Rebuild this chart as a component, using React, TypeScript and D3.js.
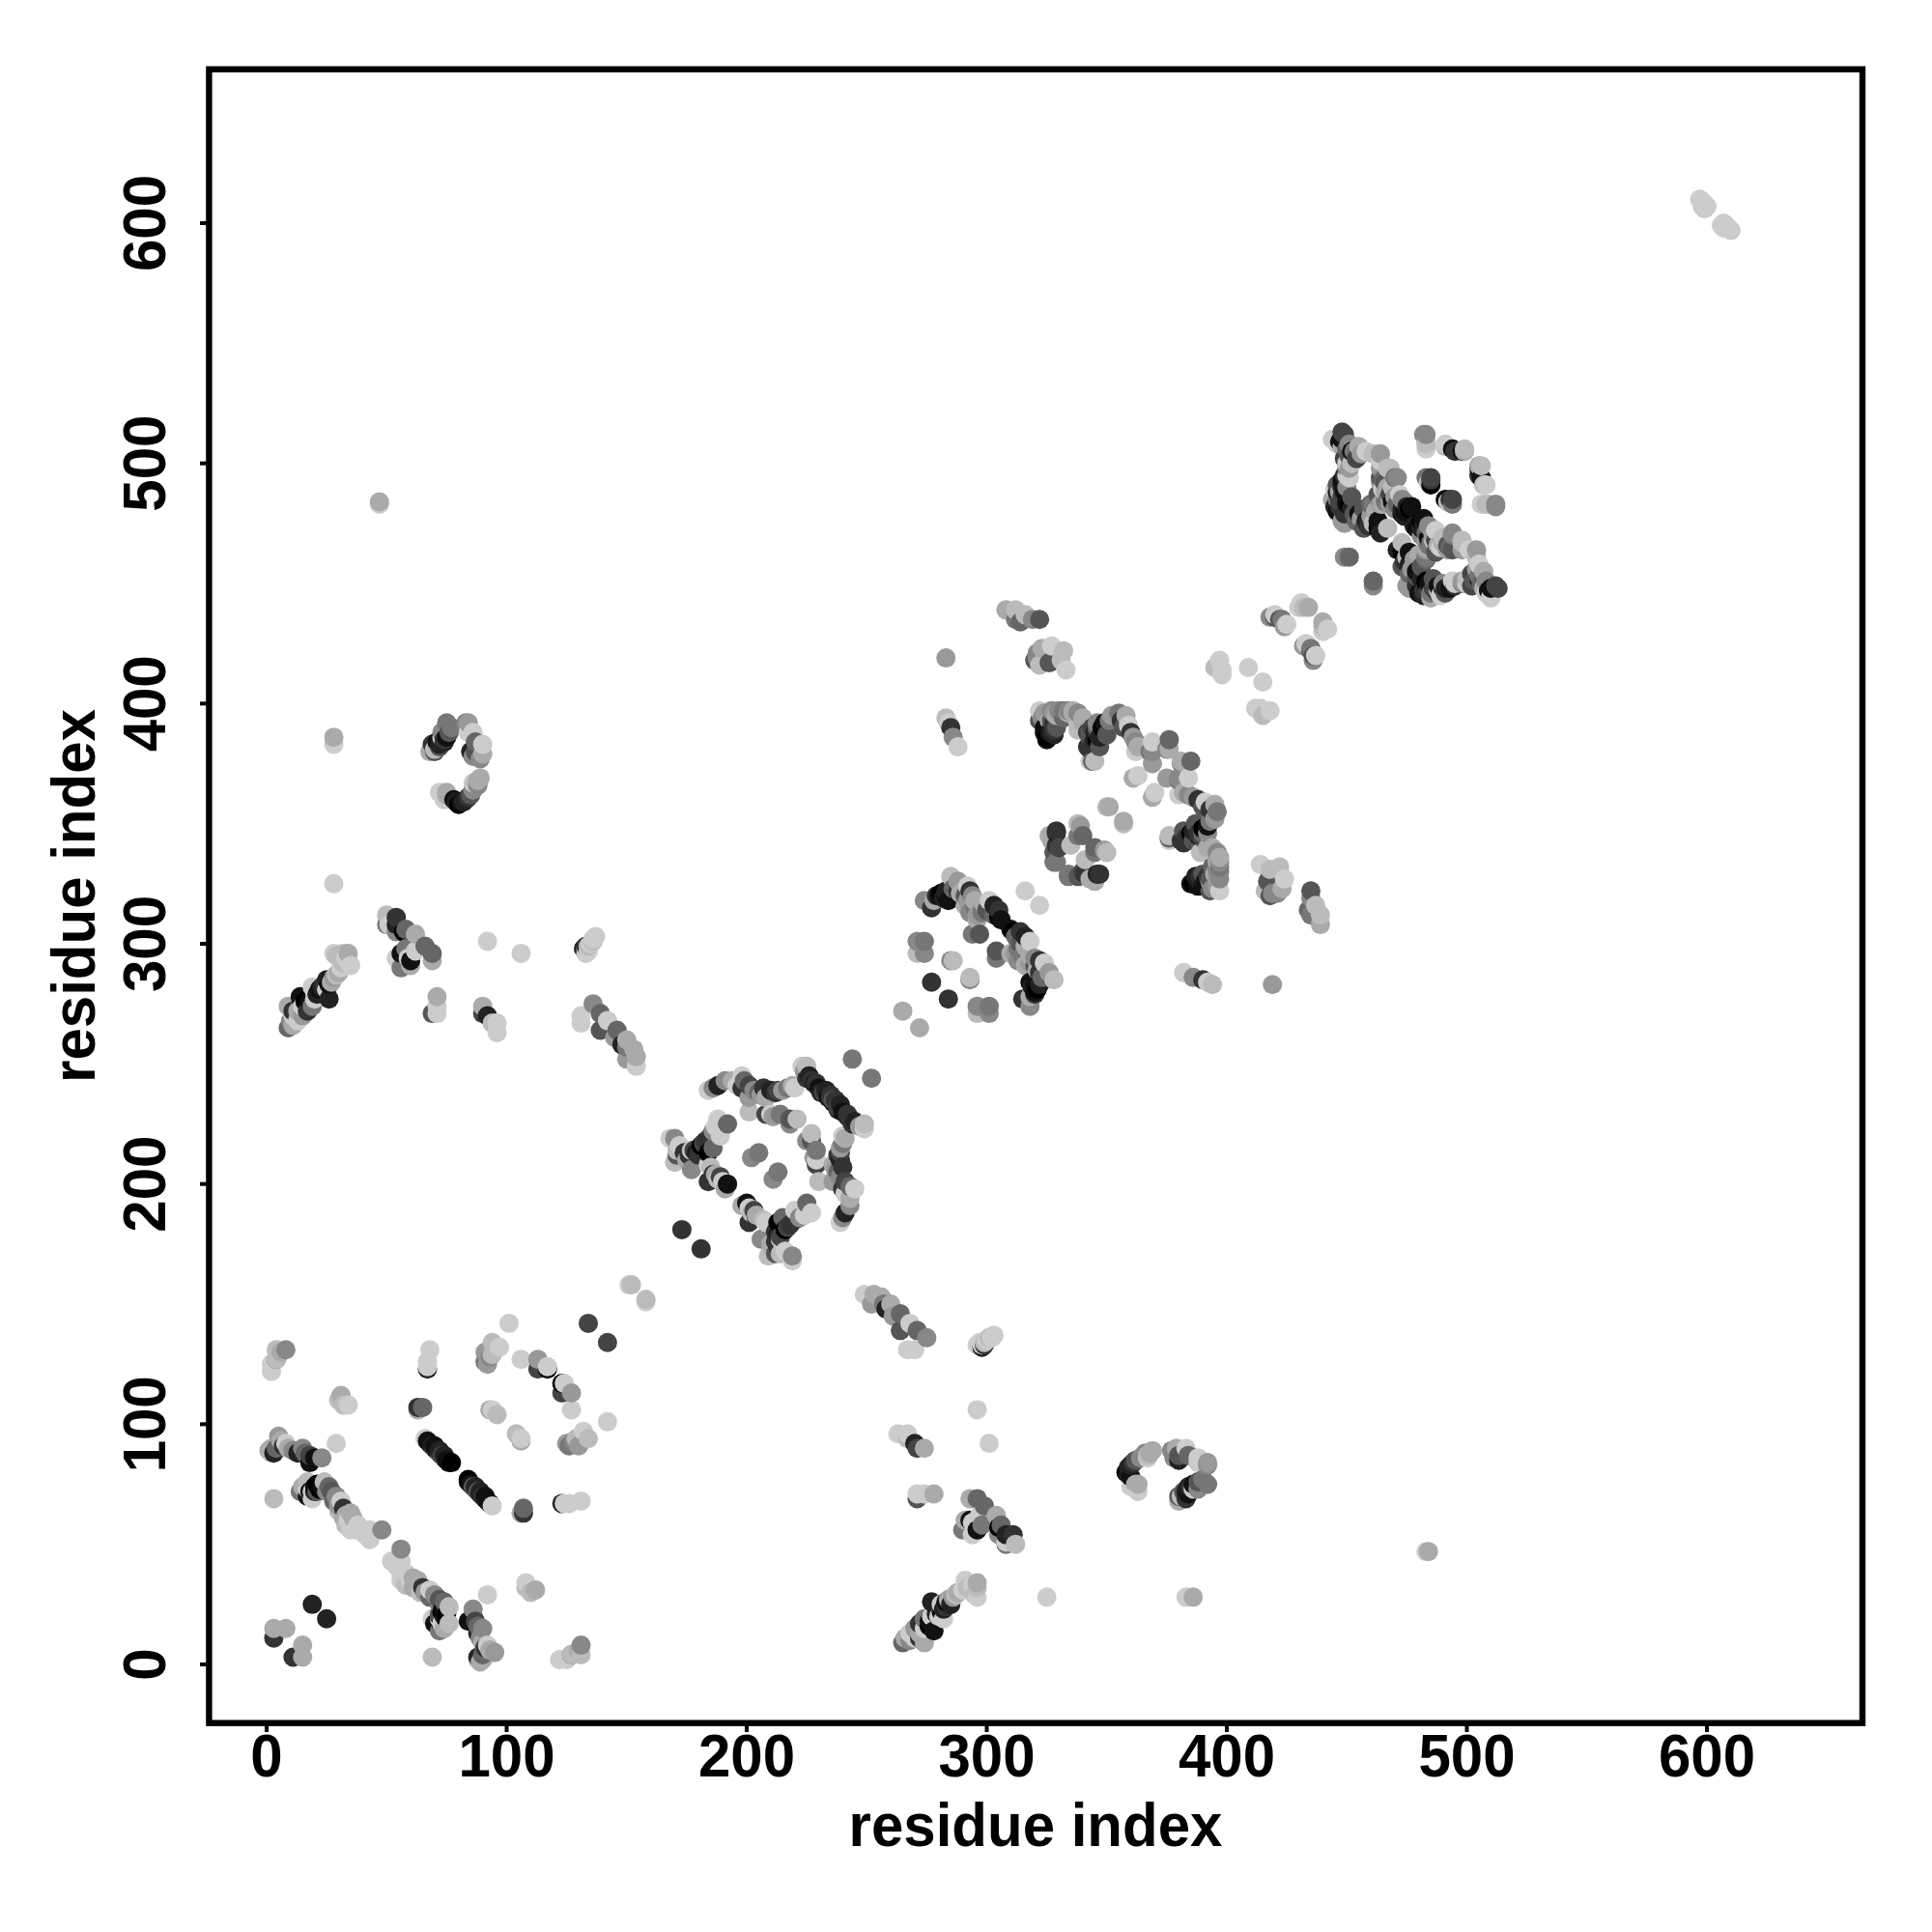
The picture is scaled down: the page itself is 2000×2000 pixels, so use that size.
import React from "react";
import * as d3 from "d3";

// contacts as [residue i, residue j, shade 0 (black) .. 12 (light grey)]; each is plotted at (i,j) and (j,i)
const nTerminalContacts: number[][] = [
  [3,11,3],[3,15,10],[8,15,10],[19,25,2],[3,69,11],
  [1,89,10],[3,88,2],[2,88,11],[2,90,10],[4,90,6],[5,95,9],[6,93,10],[7,91,3],[8,92,12],[9,90,10],[11,89,8],[13,88,2],[15,90,8],[16,88,6],[18,84,1],[18,87,4],[20,86,1],[23,86,8],
  [14,72,7],[15,74,10],[18,72,1],[17,73,12],[17,70,1],[19,69,12],[19,72,12],[20,72,2],[21,75,0],[21,72,5],[22,73,0],[23,74,1],[17,76,11],[20,74,1],[24,76,11],[25,72,8],[26,74,6],[27,72,5],[28,68,6],[29,70,8],[30,66,9],[30,64,11],[31,68,12],
  [32,65,3],[32,61,10],[33,62,10],[34,60,12],[36,61,10],[35,63,10],[33,58,11],[37,56,12],[38,58,12],[35,56,12],[40,56,12],[41,54,12],[43,56,12],[43,52,12],[48,56,8],
  [4,127,5],[2,122,12],[2,125,12],[4,127,11],[4,131,11],[6,130,10],[8,131,8],
  [31,112,10],[30,110,11],[32,108,11],[34,108,12],[29,92,12],
  [65,107,6],[63,107,3],[63,106,10],
  [67,123,2],[67,124,12],[67,126,12],[68,131,12],
  [66,94,12],[67,93,1],[68,92,1],[69,91,2],[70,90,3],[70,91,1],[71,89,1],[72,88,5],[72,89,2],[73,87,4],[74,86,5],[74,87,2],[75,85,1],[76,84,1],[77,84,0],
  [91,130,9],[92,125,9],[91,126,7],[93,128,8],[94,129,11],[97,132,12],[94,134,11],
  [113,127,9],[113,123,4],[117,123,0],[117,124,12],[101,142,12],[106,127,12],[134,142,4],[151,158,12],[152,158,11],
  [93,106,10],[96,104,11],[94,106,12],
];
const middleBlockContacts: number[][] = [
  [173,181,3],[244,252,7],
  [184,239,12],[186,240,8],[188,241,2],[191,243,8],[194,243,10],[196,241,12],[198,245,12],[198,240,3],[199,243,6],[201,241,4],[203,239,8],[205,238,6],[206,237,9],[207,240,3],[210,239,2],[212,238,3],[213,239,4],[215,239,9],[217,240,7],[219,241,10],[220,240,12],
  [225,249,11],[223,249,12],[224,247,9],[225,244,3],[226,245,2],[228,242,2],[229,242,3],[231,238,2],[230,240,1],[227,243,3],[232,238,4],[233,239,2],[234,236,1],[235,237,3],[236,235,5],
  [170,219,8],[172,216,12],[170,209,11],[171,212,5],[171,214,11],[174,213,3],[176,212,3],[177,214,12],[179,213,2],[180,212,3],[181,216,0],[182,217,4],[185,220,3],[186,215,6],[186,222,8],[187,224,12],[188,227,12],[192,225,6],[189,220,12],[184,213,0],[184,208,12],[185,207,11],[187,204,10],
  [186,204,3],[188,202,11],[189,203,4],[190,201,12],[192,200,1],[184,201,3],[178,214,4],[183,218,3],[175,210,10],[168,219,12],[191,198,10],[177,206,8],
  [202,211,8],[205,213,7],[201,230,11],[210,229,12],[208,229,4],[214,229,7],[218,227,5],[221,227,11],[218,225,8],[211,228,9],[201,236,9],[208,236,10],
];
const crossContacts: number[][] = [
  [154,249,12],[154,253,10],[153,256,10],[150,252,9],[150,257,7],[150,260,10],[146,264,6],[145,261,9],[142,268,12],[139,264,5],[139,271,6],[136,275,8],[131,270,12],[131,267,12],[148,258,2],
  [133,296,12],[134,297,12],[132,298,2],[133,298,12],[133,299,3],[134,299,11],[135,300,12],[136,301,11],[136,302,12],[137,303,12],
  [106,296,12],[92,301,12],[96,263,12],[96,267,12],[94,267,11],[92,270,2],[90,274,10],[90,271,4],
  [71,271,12],[69,271,5],[71,274,12],[71,278,10],
  [69,293,10],[69,296,6],[66,299,6],[60,291,10],[56,290,7],[54,294,12],[59,294,12],[62,297,12],[58,298,7],[62,304,10],[58,306,6],[54,305,8],[54,311,3],[54,308,2],[50,312,11],[50,308,7],[51,308,12],[60,293,1],[56,296,1],[57,305,0],
  [9,265,6],[10,268,8],[11,266,10],[11,270,12],[13,268,12],[9,274,10],[11,272,3],[15,270,9],[15,274,12],[17,272,3],[19,274,7],[16,276,0],[18,276,1],[26,277,2],[20,277,12],[21,279,2],[20,280,12],[22,281,1],[19,282,12],[23,282,2],[24,283,3],[25,281,12],[26,283,1],[25,285,2],[27,284,10],[28,286,9],[29,287,11],[30,288,10],[31,290,12],[35,291,12],[32,292,11],[33,294,12],[32,296,11],[34,296,10],[28,296,12],[29,295,11],[14,278,1],[13,272,10],
  [28,325,12],[28,383,12],[28,386,10],
  [79,359,2],[80,358,0],[81,359,1],[82,359,2],[83,360,2],[84,361,3],[85,362,5],[86,364,8],[86,367,12],[87,367,11],[88,366,8],[88,368,10],[89,369,10],[72,363,12],[74,360,12],[75,362,10],[75,363,10],[78,360,1],
  [89,377,8],[86,378,8],[85,380,2],[87,380,5],[87,384,6],[90,383,12],[90,379,10],[84,388,12],[86,388,12],[83,392,8],[84,392,9],
  [68,380,10],[70,380,5],[70,381,11],[69,383,3],[71,384,1],[72,382,5],[72,383,2],[73,386,12],[74,385,3],[73,388,8],[74,384,2],[75,386,1],[76,388,5],[77,390,7],[75,392,7],
  [47,483,12],[47,484,10],
];
const secondBlockContacts: number[][] = [
  [265,272,10],[277,284,3],[271,296,11],[271,301,8],[274,296,8],[274,301,7],[285,293,8],[286,293,11],
  [274,318,8],[278,318,10],[277,315,3],[279,320,3],[280,320,1],[281,321,0],[282,319,2],[283,320,1],[283,322,2],[284,318,1],[285,328,11],[286,323,6],[288,326,9],[288,322,3],[289,321,10],[291,320,5],[292,318,9],[292,324,12],[293,322,3],[291,316,10],[293,313,8],[294,320,8],[295,318,10],[295,315,7],[296,312,9],[296,310,10],[298,313,7],[299,316,10],[300,314,5],[301,318,12],[303,316,2],[303,312,6],[305,314,3],[305,311,0],[306,310,1],[297,304,5],[294,304,7],[316,322,12],
  [329,347,3],[339,349,9],[340,345,6],[329,341,3],[335,341,11],[329,334,7],[328,334,7],[338,345,7],[338,350,11],[329,346,2],[327,343,10],[326,345,10],[328,338,5],[351,357,10],[350,357,11],[330,340,4],
  [343,381,3],[345,376,11],[346,385,0],[350,387,5],[349,392,1],[346,392,8],[342,388,4],[338,389,11],[338,396,8],[334,397,8],[327,397,8],[322,397,12],[325,385,1],[328,389,3],[328,387,2],[326,393,10],
  [323,394,8],[324,396,9],[326,391,1],[327,388,2],[327,393,5],[329,395,10],[331,396,8],[332,394,6],[336,397,10],[340,394,10],[344,390,4],[345,385,2],[344,383,3],[346,388,3],[348,390,0],[347,382,5],[351,393,7],[352,395,9],[356,393,3],[357,390,5],[361,386,9],[363,382,10],
  [327,390,2],[326,388,1],[324,388,1],[330,397,8],[328,396,9],[332,397,7],[336,396,10],[340,392,10],[343,386,5],[345,388,2],[346,390,6],
  [334,396,10],[338,392,11],[328,392,3],[324,390,1],[325,386,0],[329,390,5],[322,393,5],[343,388,5],[347,386,2],[342,382,3],[344,376,6],[343,376,12],
  [355,396,7],[358,395,10],[359,391,12],[360,388,3],[362,384,8],[362,380,12],[369,384,12],[369,380,8],[369,375,9],[376,385,6],[376,381,10],[375,381,8],[363,370,12],[361,369,10],[368,380,7],
  [333,414,12],[331,418,11],[332,422,11],[327,424,12],[322,416,11],[321,419,8],[323,423,10],[326,417,5],[321,421,8],[320,418,5],
  [322,435,5],[316,437,11],[308,439,10],[312,439,11],[312,435,7],[319,435,8],[314,434,6],
  [288,382,12],[286,386,8],[285,390,3],[283,394,11],[284,392,12],[283,419,9],
  [420,436,5],[424,432,9],[425,433,12],[422,435,5],[420,437,12],[423,435,7],[430,440,12],[434,440,10],[432,440,11],[431,442,12],[418,436,8],
  [398,414,12],[397,418,12],[395,415,11],[398,412,12],[409,415,12],
];
const thirdBlockContacts: number[][] = [
  [444,510,12],[449,512,4],[451,508,8],[456,504,9],[461,504,11],[464,504,9],[451,498,9],[451,494,12],[448,490,3],[444,485,10],[445,482,2],[451,483,0],[449,475,9],[453,479,5],[457,481,5],[461,483,7],[465,483,10],[459,474,3],[463,473,0],[467,473,11],[449,461,8],[451,461,6],
  [468,498,11],[471,494,8],[464,494,5],[465,489,12],[472,487,12],[474,484,8],[477,482,1],[473,481,2],[467,485,7],
  [475,482,2],[473,485,8],[470,486,9],[469,490,11],[470,494,7],[467,498,11],[464,501,12],[465,493,6],[464,498,9],[464,471,2],[461,475,11],[457,473,5],[464,483,9],[460,483,6],
  [448,476,9],[449,479,3],[450,483,1],[446,485,7],[446,488,2],[448,491,2],[450,495,12],[450,498,8],[454,502,4],[450,506,6],[445,510,12],[448,513,4],[448,510,1],
  [446,480,1],[447,482,3],[448,486,4],[449,488,1],[450,490,8],[452,500,11],[453,505,7],[455,507,10],[458,505,12],[452,481,2],[454,476,6],[455,479,1],[456,477,9],[458,476,2],[460,478,9],[462,480,10],[463,476,1],[466,492,5],[467,490,10],[468,487,4],[469,484,1],[471,483,6],[474,480,1],[476,481,0],[474,478,2],[473,479,1],[470,481,8],[468,483,9],[466,484,7],[468,486,11],[466,488,10],[465,490,12],[464,492,9],[463,487,5],
  [447,484,4],[450,484,1],[452,486,5],[447,488,10],[445,489,12],[446,491,5],[448,493,1],[449,495,3],[450,500,12],[449,502,4],[451,503,5],[452,505,1],[448,507,10],[446,508,12],[447,509,1],
  [483,512,8],[483,508,11],[491,507,11],[494,506,1],[498,505,1],[495,505,3],[499,505,10],[499,506,11],[491,508,12],[483,506,12],[483,509,11],[482,512,8],[483,494,7],[485,493,3],[485,491,0],[485,494,4],[484,492,11],
  [597,610,12],[598,609,12],[598,607,12],[599,608,12],[599,606,12],[600,607,12],
];

const xTicks = [0, 100, 200, 300, 400, 500, 600];
const yTicks = [0, 100, 200, 300, 400, 500, 600];
const axisTitle = "residue index";

const x = d3.scaleLinear().domain([0, 600]).range([276, 1767]);
const y = d3.scaleLinear().domain([0, 600]).range([1723, 231]);
const grey = d3.scaleLinear<string>().domain([0, 12]).range(["#000000", "#cccccc"]);

const allContacts = [...nTerminalContacts, ...middleBlockContacts, ...crossContacts, ...secondBlockContacts, ...thirdBlockContacts];
const points = allContacts
  .flatMap(([i, j, s]) => [{ px: i, py: j, s }, { px: j, py: i, s }])
  .sort((a, b) => d3.ascending(a.px, b.px) || d3.ascending(a.py, b.py));

const font = "'Liberation Sans', Arial, sans-serif";

export default function App() {
  return (
    <svg width={2000} height={2000} style={{ position: "absolute", left: 0, top: 0 }} fontFamily={font} fontWeight="bold">
      <rect width={2000} height={2000} fill="#fff" />
      {points.map((p, k) => (
        <circle key={k} cx={x(p.px)} cy={y(p.py)} r={10} fill={grey(p.s)} />
      ))}
      <rect x={216.4} y={71.7} width={1711.6} height={1712} fill="none" stroke="#000" strokeWidth={6.4} />
      {xTicks.map((t) => (
        <g key={t}>
          <line x1={x(t)} x2={x(t)} y1={1783.7} y2={1793} stroke="#000" strokeWidth={4} />
          <text transform={`translate(${x(t)},1839) scale(1,1.06)`} textAnchor="middle" fontSize={60}>{t}</text>
        </g>
      ))}
      {yTicks.map((t) => (
        <g key={t}>
          <line x1={207} x2={216.4} y1={y(t)} y2={y(t)} stroke="#000" strokeWidth={4} />
          <text transform={`translate(171,${y(t)}) rotate(-90) scale(1,1.06)`} textAnchor="middle" fontSize={60}>{t}</text>
        </g>
      ))}
      <text transform="translate(1072,1911) scale(1,1.04)" textAnchor="middle" fontSize={60}>{axisTitle}</text>
      <text transform="translate(98,927.5) rotate(-90) scale(1,1.04)" textAnchor="middle" fontSize={60}>{axisTitle}</text>
    </svg>
  );
}
